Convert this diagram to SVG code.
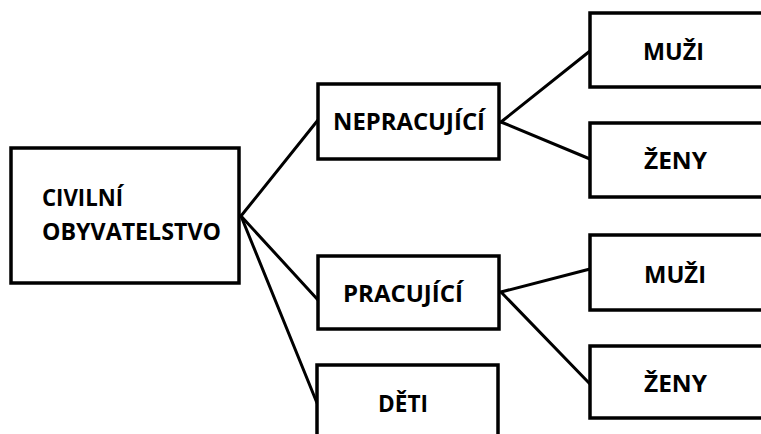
<svg xmlns="http://www.w3.org/2000/svg" width="761" height="434" viewBox="0 0 761 434">
<style>
.box{fill:#fff;stroke:#000;stroke-width:3.5}
.t{font-family:"Open Sans","Noto Sans","Liberation Sans",sans-serif;font-weight:bold;font-size:22.5px;fill:#000}
.c{stroke:#000;stroke-width:3;fill:none;stroke-linecap:round}
</style>
<rect width="761" height="434" fill="#fff"/>
<g id="connectors">
<line class="c" x1="241" y1="216" x2="318" y2="120"/>
<line class="c" x1="241" y1="216" x2="318" y2="300"/>
<line class="c" x1="241" y1="216" x2="317" y2="403"/>
<line class="c" x1="501" y1="122" x2="590" y2="51"/>
<line class="c" x1="501" y1="122" x2="590" y2="159"/>
<line class="c" x1="501" y1="292" x2="590" y2="269"/>
<line class="c" x1="501" y1="292" x2="590" y2="384"/>
</g>
<g id="civilni">
<rect class="box" x="11" y="148" width="228" height="135"/>
<text class="t" x="42" y="206" textLength="81" lengthAdjust="spacingAndGlyphs">CIVILNÍ</text>
<text class="t" x="42" y="240" textLength="179" lengthAdjust="spacingAndGlyphs">OBYVATELSTVO</text>
</g>
<g id="nepracujici">
<rect class="box" x="318" y="84" width="181" height="75"/>
<text class="t" x="333" y="130" textLength="152" lengthAdjust="spacingAndGlyphs">NEPRACUJÍCÍ</text>
</g>
<g id="pracujici">
<rect class="box" x="318" y="256" width="181" height="73"/>
<text class="t" x="343" y="302" textLength="120" lengthAdjust="spacingAndGlyphs">PRACUJÍCÍ</text>
</g>
<g id="deti">
<rect class="box" x="317" y="365" width="181" height="80"/>
<text class="t" x="378" y="412" textLength="50" lengthAdjust="spacingAndGlyphs">DĚTI</text>
</g>
<g id="muzi1">
<rect class="box" x="590" y="13" width="180" height="74"/>
<text class="t" x="643" y="60" textLength="61" lengthAdjust="spacingAndGlyphs">MUŽI</text>
</g>
<g id="zeny1">
<rect class="box" x="590" y="123" width="180" height="74"/>
<text class="t" x="644" y="169" textLength="63" lengthAdjust="spacingAndGlyphs">ŽENY</text>
</g>
<g id="muzi2">
<rect class="box" x="590" y="235" width="180" height="75"/>
<text class="t" x="644" y="283" textLength="62" lengthAdjust="spacingAndGlyphs">MUŽI</text>
</g>
<g id="zeny2">
<rect class="box" x="590" y="346" width="180" height="72"/>
<text class="t" x="644" y="392" textLength="63" lengthAdjust="spacingAndGlyphs">ŽENY</text>
</g>
</svg>
